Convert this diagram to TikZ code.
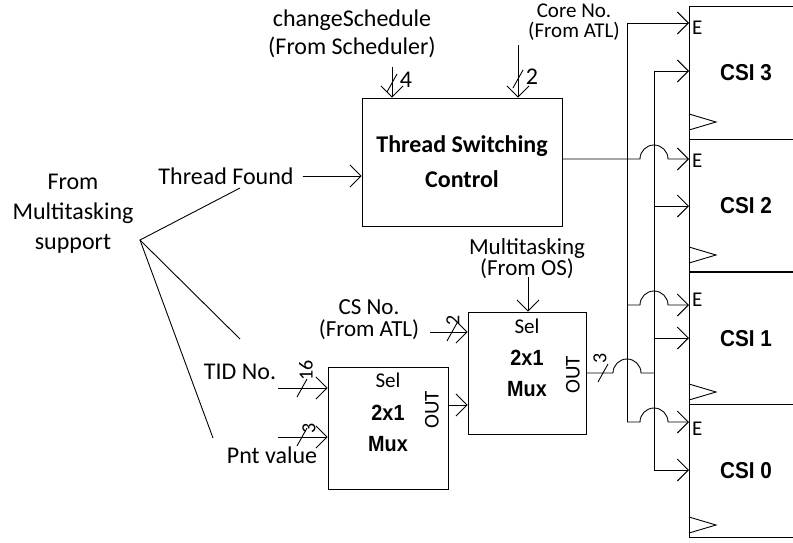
\documentclass[tikz,border=0pt]{standalone}
\usepackage{fontspec}
\setmainfont{Carlito}
\newfontfamily\csifont[FakeStretch=0.9]{Liberation Sans}
\usetikzlibrary{arrows.meta}

\begin{document}
\begin{tikzpicture}[x=1pt,y=-1pt,
  wire/.style={line width=0.9pt},
  feed/.style={wire,-{Straight Barb[length=11pt,width=22pt,line width=0.9pt]}},
  blk/.style={draw,line width=0.9pt,inner sep=0pt},
  txt/.style={font=\fontsize{24}{28}\selectfont,align=center,inner sep=0pt},
  hw/.style={font=\csifont\bfseries\fontsize{22}{31}\selectfont,align=center,inner sep=0pt},
  sel/.style={font=\fontsize{21}{21}\selectfont,inner sep=0pt},
  outlbl/.style={font=\fontsize{21}{21}\selectfont,inner sep=0pt,rotate=90},
  buswd/.style={font=\fontsize{20}{20}\selectfont,inner sep=0pt,rotate=90},
  topwd/.style={font=\fontsize{24}{24}\selectfont,inner sep=0pt}]
\clip (0,0) rectangle (793,542);
% ---- blocks ----
\node[blk,minimum width=200pt,minimum height=128pt,font=\bfseries\fontsize{24}{35}\selectfont,align=center] (tsc) at (462,162) {Thread Switching\\Control};
\node[blk,minimum width=120pt,minimum height=122pt] (mux1) at (388,428) {};
\node[blk,minimum width=118pt,minimum height=122pt] (mux2) at (527,373) {};
\node[sel] (mux1 sel) at (388,380) {Sel};
\node[hw] (mux1 name) at (388,428) {2x1\\Mux};
\node[outlbl] (mux1 out) at (432,410) {OUT};
\node[sel] (mux2 sel) at (527,326) {Sel};
\node[hw] (mux2 name) at (527,373) {2x1\\Mux};
\node[outlbl] (mux2 out) at (573,375) {OUT};
\foreach \n/\cy in {3/73,2/205.5,1/338.5,0/471}
  \node[blk,minimum width=114pt,minimum height=132.5pt,font=\csifont\bfseries\fontsize{23}{23}\selectfont] (csi\n) at (746,\cy) {CSI \n};
% ---- labels ----
\node[txt,font=\fontsize{24}{30}\selectfont] (mts) at (73,214) {From\\Multitasking\\support};
\node[txt] (tfound) at (226,176) {Thread Found};
\node[txt] (tid) at (240,372) {TID No.};
\node[txt] (pnt) at (272,455) {Pnt value};
\node[txt] (chsched) at (352,34) {changeSchedule\\(From Scheduler)};
\node[txt,font=\fontsize{21}{20}\selectfont] (coreno) at (574,22) {Core No.\\(From ATL)};
\node[txt,font=\fontsize{23}{22}\selectfont] (csno) at (369,320) {CS No.\\(From ATL)};
\node[txt,font=\fontsize{23}{21}\selectfont] (mtos) at (527,259) {Multitasking\\(From OS)};
% ---- fan out from multitasking support ----
\coordinate (fan) at (140,240);
\coordinate (fan tf) at (240,188);
\coordinate (fan tid) at (240,339);
\coordinate (fan pnt) at (213,438);
\draw[wire] (fan tf) -- (fan) -- (fan tid);
\draw[wire] (fan) -- (fan pnt);
% ---- control inputs ----
\draw[feed] ([xshift=9pt]tfound.east) -- (tsc.west |- tfound.east);
\coordinate (chs in) at (392,67);
\draw[feed] (chs in) -- (chs in |- tsc.north);
\draw[wire] (392,83) +(-5,9) -- +(5,-9);
\node[topwd] at (406,80) {4};
\coordinate (core in) at (518,45);
\draw[feed] (core in) -- (core in |- tsc.north);
\draw[wire] (518,79) +(-5,9) -- +(5,-9);
\node[topwd] at (532,77) {2};
% ---- mux inputs ----
\coordinate (tid in) at (278,388);
\coordinate (pnt in) at (278,437);
\draw[feed] (tid in) -- (tid in -| mux1.west);
\draw[feed] (pnt in) -- (pnt in -| mux1.west);
\draw[wire] (302,388) +(-5,9) -- +(5,-9);
\node[buswd] at (306,370) {16};
\draw[wire] (302,437) +(-5,9) -- +(5,-9);
\node[buswd] at (309,428) {3};
\coordinate (cs in) at (430,332);
\draw[feed] (cs in) -- (cs in -| mux2.west);
\draw[wire] (452,332) +(-5,9) -- +(5,-9);
\node[buswd] at (453,320) {2};
\coordinate (mt in) at (528,277);
\draw[feed] (mt in) -- (mt in |- mux2.north);
\coordinate (m1 out) at ([yshift=23pt]mux1.east);
\draw[feed] (m1 out) -- (m1 out -| mux2.west);
% ---- CSI inputs ----
\foreach \n/\ey/\dy/\cy/\ly in {3/23/71/122/28,2/159/206/255/161,1/305/338/392/300,0/422/470/525/429}{
  \coordinate (e\n) at (689,\ey);
  \coordinate (d\n) at (689,\dy);
  \node[font=\fontsize{21}{21}\selectfont,inner sep=0pt,anchor=west] at (692,\ly) {E};
  \draw[feed] (654,\dy) -- (d\n);
  \draw[wire] (689,\cy-8) -- (716,\cy) -- (689,\cy+8);
}
% enable bus
\draw[feed] (627,422) -- (627,23) -- (e3);
\draw[feed] (tsc.east |- e2) -- (640,159) arc[start angle=180,end angle=0,radius=14pt] -- (e2);
\draw[feed] (627,305) -- (640,305) arc[start angle=180,end angle=0,radius=14pt] -- (e1);
\draw[feed] (627,422) -- (640,422) arc[start angle=180,end angle=0,radius=14pt] -- (e0);
% data bus
\coordinate (dj) at (654,373);
\draw[wire] (654,71) -- (654,470);
\draw[wire] (mux2.east) -- (613,373) arc[start angle=180,end angle=0,radius=14pt] -- (dj);
\draw[wire] (603,373) +(-5,9) -- +(5,-9);
\node[buswd] at (600,358) {3};
\end{tikzpicture}
\end{document}
